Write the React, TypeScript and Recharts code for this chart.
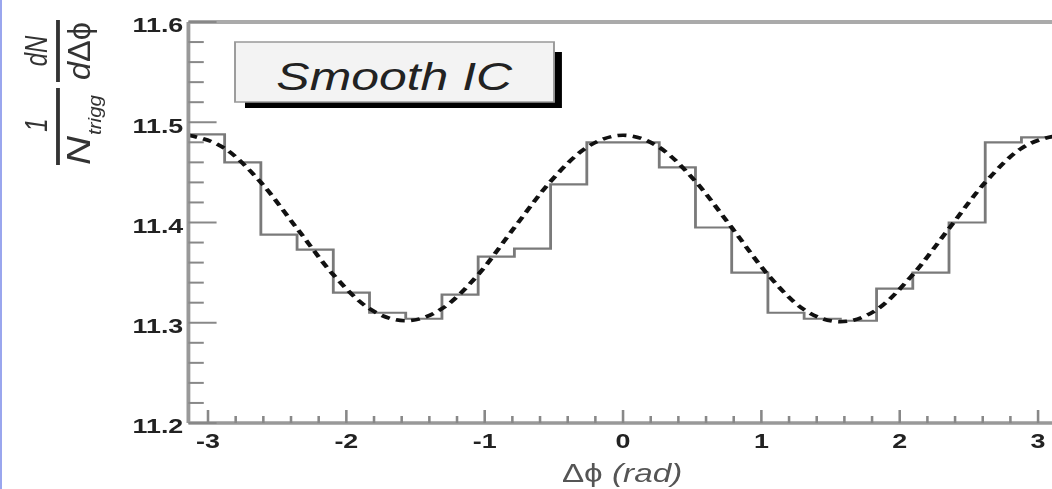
import { LineChart, Line, XAxis, YAxis, ReferenceLine } from 'recharts';

// bin edges in rad (24 bins of pi/12)
const edges = [
  -3.14159, -2.87979, -2.61799, -2.35619, -2.0944, -1.8326, -1.5708, -1.309, -1.0472, -0.7854, -0.5236, -0.2618,
  0, 0.2618, 0.5236, 0.7854, 1.0472, 1.309, 1.5708, 1.8326, 2.0944, 2.35619, 2.61799, 2.87979, 3.14159,
];

// histogram contents, one per bin
const histValues = [
  11.488, 11.46, 11.388, 11.373, 11.33, 11.31, 11.304, 11.328, 11.366, 11.374, 11.438, 11.48,
  11.48, 11.455, 11.395, 11.35, 11.31, 11.304, 11.302, 11.334, 11.35, 11.4, 11.48, 11.485,
];

// dashed smooth curve read at the bin edges
const fitValues = [
  11.487, 11.474, 11.44, 11.394, 11.348, 11.314, 11.302, 11.314, 11.348, 11.395, 11.441, 11.475,
  11.487, 11.475, 11.441, 11.395, 11.348, 11.313, 11.301, 11.313, 11.348, 11.394, 11.44, 11.474, 11.487,
];

const xTickLabels = ['-3', '-2', '-1', '0', '1', '2', '3'];
const yTickLabels = ['11.2', '11.3', '11.4', '11.5', '11.6'];

const data = edges.map((x, i) => ({ x, hist: histValues[Math.min(i, histValues.length - 1)], fit: fitValues[i] }));

const xTicks = Array.from({ length: 31 }, (_, i) => -3 + i * 0.2);
const yTicks = Array.from({ length: 21 }, (_, i) => 11.2 + i * 0.02);

const FONT = '"Liberation Sans", Arial, Helvetica, sans-serif';
const SX = 1.28; // the original is stretched horizontally

const XTick = (props: any) => {
  const { x, y, payload } = props;
  const v = payload.value;
  const major = Math.abs(v - Math.round(v)) < 1e-6;
  const label = xTickLabels[Math.round(v) + 3];
  return (
    <g>
      <line x1={x} x2={x} y1={y} y2={y - (major ? 13 : 7)} stroke="#888" strokeWidth={2} />
      {major && (
        <text x={x} y={y + 25} textAnchor="middle" fontSize={21} fontWeight="bold" fill="#222" fontFamily={FONT}>
          {label}
        </text>
      )}
    </g>
  );
};

const YTick = (props: any) => {
  const { x, y, payload } = props;
  const v = payload.value;
  const major = Math.abs(v * 10 - Math.round(v * 10)) < 1e-6;
  const label = yTickLabels[Math.round((v - 11.2) * 10)];
  return (
    <g>
      <line x1={x} x2={x + (major ? 22 : 12)} y1={y} y2={y} stroke="#888" strokeWidth={2} />
      {major && (
        <text x={x - 4} y={y + 10.5} textAnchor="end" fontSize={21} fontWeight="bold" fill="#222" fontFamily={FONT}>
          {label}
        </text>
      )}
    </g>
  );
};

export default function App() {
  return (
    <div style={{ position: 'absolute', left: 0, top: 0, width: 1052, height: 489, overflow: 'hidden', background: '#fff' }}>
      <div style={{ position: 'absolute', left: 0, top: 0, width: 2, height: 489, background: '#9aa6ee', zIndex: 2 }} />
      <div style={{ position: 'absolute', left: 0, top: 0, width: 870, height: 489, transform: `scaleX(${SX})`, transformOrigin: '0 0' }}>
        <LineChart width={870} height={489} data={data} margin={{ top: 22, right: 43.7, bottom: 0, left: 0 }}>
          <XAxis
            dataKey="x"
            type="number"
            domain={[-Math.PI, Math.PI]}
            ticks={xTicks}
            interval={0}
            tickLine={false}
            tickSize={0}
            tickMargin={0}
            tick={<XTick />}
            height={66}
            axisLine={{ stroke: '#999', strokeWidth: 3.5 }}
          />
          <YAxis
            type="number"
            domain={[11.2, 11.6]}
            ticks={yTicks}
            interval={0}
            tickLine={false}
            tickSize={0}
            tickMargin={0}
            tick={<YTick />}
            width={147.2}
            axisLine={{ stroke: '#999', strokeWidth: 3 }}
          />
          <ReferenceLine y={11.6} stroke="#aaa" strokeWidth={4} />
          <ReferenceLine x={Math.PI} stroke="#aaa" strokeWidth={3} />
          <Line dataKey="hist" type="stepAfter" stroke="#7a7a7a" strokeWidth={2.2} dot={false} isAnimationActive={false} />
          <Line dataKey="fit" type="monotone" stroke="#111" strokeWidth={3.6} strokeDasharray="7 5" dot={false} isAnimationActive={false} />
        </LineChart>
        <svg width={870} height={489} style={{ position: 'absolute', left: 0, top: 0, pointerEvents: 'none' }} fontFamily={FONT}>
          {/* legend box */}
          <rect x={191.4} y={52} width={247.6} height={56} fill="#000" />
          <rect x={183.6} y={42} width={249.2} height={60} fill="#f3f3f3" stroke="#999" strokeWidth={1.5} />
          <text x={308} y={90} textAnchor="middle" fontSize={39} fontStyle="italic" fill="#222">
            Smooth IC
          </text>
          {/* y axis title */}
          <g fill="#333">
            <text transform="rotate(-90)" x={-51} y={36.7} textAnchor="middle" fontSize={24} fontStyle="italic">dN</text>
            <line x1={45.3} x2={45.3} y1={20} y2={82} stroke="#333" strokeWidth={3} />
            <text transform="rotate(-90)" x={-51} y={70} textAnchor="middle" fontSize={24} textLength={58} lengthAdjust="spacingAndGlyphs">
              <tspan fontStyle="italic">d</tspan>Δϕ
            </text>
            <text transform="rotate(-90)" x={-125} y={36.7} textAnchor="middle" fontSize={24} fontStyle="italic">1</text>
            <line x1={45.3} x2={45.3} y1={88} y2={165} stroke="#333" strokeWidth={3} />
            <text transform="rotate(-90)" x={-165} y={70} fontSize={26} fontStyle="italic" textLength={29} lengthAdjust="spacingAndGlyphs">N</text>
            <text transform="rotate(-90)" x={-135} y={79} fontSize={15} fontStyle="italic" textLength={40} lengthAdjust="spacingAndGlyphs">trigg</text>
          </g>
          {/* x axis title */}
          <text x={486} y={482} textAnchor="middle" fontSize={26} fill="#555">
            Δϕ <tspan fontStyle="italic">(rad)</tspan>
          </text>
        </svg>
      </div>
    </div>
  );
}
